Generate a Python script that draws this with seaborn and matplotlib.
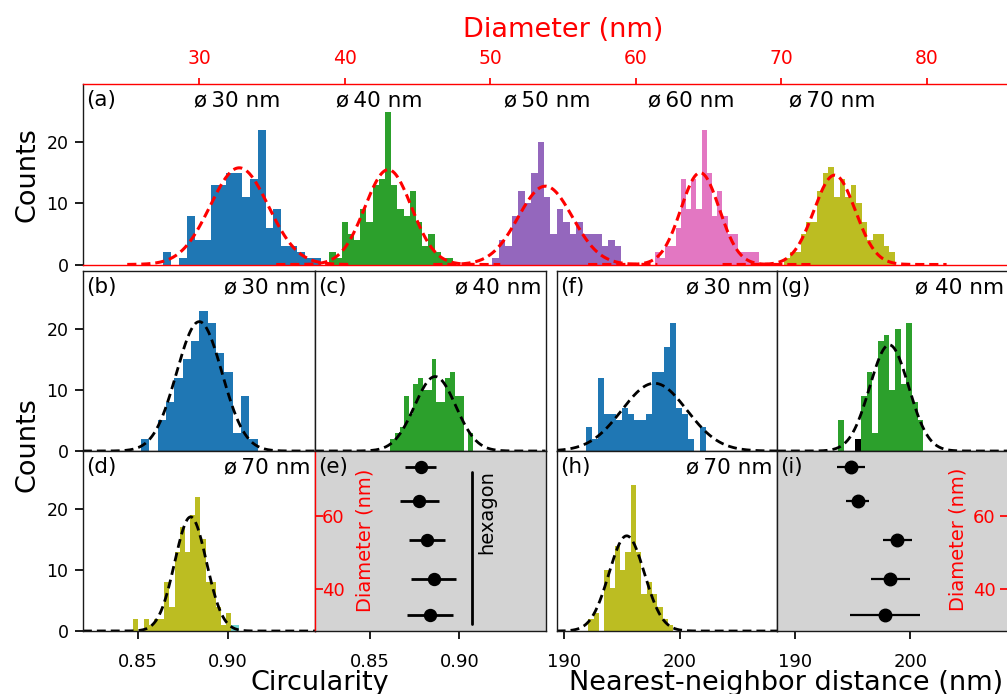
import numpy as np
import pandas as pd
import matplotlib
matplotlib.use("Agg")
import matplotlib.pyplot as plt
import seaborn as sns

# ---------------- values ----------------
# (a) diameter histograms: first bin edge (nm), bin width (nm), counts per bin
diam_colors = ["tab:blue", "tab:green", "tab:purple", "tab:pink", "tab:olive"]
diam_names = ["30", "40", "50", "60", "70"]
diam_start = [27.54, 38.95, 50.16, 61.32, 70.21]
diam_width = [0.541, 0.426, 0.443, 0.358, 0.381]
diam_counts = [
    [2, 0, 1, 8, 4, 4, 13, 13, 15, 15, 11, 14, 22, 6, 9, 3, 3, 2, 1, 1],
    [2, 1, 7, 5, 4, 9, 7, 13, 14, 25, 13, 9, 8, 12, 7, 3, 5, 2, 1, 1],
    [1, 4, 3, 8, 12, 10, 15, 20, 11, 5, 9, 7, 5, 7, 5, 5, 5, 3, 4, 3],
    [2, 1, 3, 3, 6, 14, 9, 14, 9, 22, 15, 8, 12, 8, 5, 5, 2, 2, 2, 2],
    [1, 2, 2, 5, 7, 7, 12, 15, 16, 11, 14, 11, 13, 10, 7, 4, 5, 5, 3, 2],
]
# gaussian fits of (a)
diam_fit_amp = [15.8, 15.5, 12.8, 15.0, 14.6]
diam_fit_mu = [32.76, 43.0, 53.8, 64.44, 73.68]
diam_fit_sigma = [2.0, 1.6, 1.86, 1.32, 1.42]

# (b), (c), (d) circularity histograms for 30, 40, 70 nm
circ_start = [0.8515, 0.8615, 0.8472]
circ_width = [0.00463, 0.00256, 0.00287]
circ_counts = [
    [2, 0, 5, 8, 12, 15, 18, 23, 21, 16, 13, 3, 9, 2],
    [2, 3, 4, 9, 6, 11, 12, 10, 10, 15, 8, 8, 12, 13, 9, 9, 0, 3],
    [2, 0, 2, 1, 2, 2, 8, 4, 13, 17, 13, 19, 22, 15, 8, 8, 4, 1, 3],
]
circ_fit_amp = [21.2, 12.2, 18.7]
circ_fit_mu = [0.8839, 0.8865, 0.8791]
circ_fit_sigma = [0.0126, 0.0115, 0.0088]
circ_extra = (0.9018, 0.0043, [1])   # small cyan bar in (d)

# (f), (g), (h) nearest-neighbor distance histograms for 30, 40, 70 nm
nnd_start = [191.88, 193.74, 192.08]
nnd_width = [0.519, 0.493, 0.458]
nnd_counts = [
    [4, 2, 12, 6, 6, 5, 7, 6, 5, 5, 6, 13, 13, 17, 21, 7, 6, 2, 0, 4],
    [5, 0, 0, 0, 9, 13, 3, 18, 19, 10, 20, 11, 21, 8, 5],
    [2, 3, 0, 10, 7, 14, 10, 13, 24, 13, 6, 8, 6, 4, 2, 1],
]
nnd_fit_amp = [11.1, 17.4, 15.6]
nnd_fit_mu = [197.78, 198.17, 195.39]
nnd_fit_sigma = [2.8, 1.69, 1.53]
nnd_extra = (195.22, 0.493, [2])     # small black bar in (g)

# (e), (i) mean values vs diameter (70, 60, 50, 40, 30 nm)
summary_diam = [73.4, 64.2, 53.3, 42.7, 32.8]
summary_circ = [0.8784, 0.8776, 0.8820, 0.8856, 0.8836]
summary_circ_err = [0.0086, 0.0110, 0.0099, 0.0125, 0.0128]
summary_nnd = [194.87, 195.43, 198.87, 198.26, 197.77]
summary_nnd_err = [1.20, 0.98, 1.28, 1.70, 3.04]
hexagon_circ = 0.9069
hexagon_span = [30.4, 72.0]

# ---------------- style ----------------
sns.set_theme(style="ticks")
plt.rcParams["font.family"] = ["DejaVu Sans"]
plt.rcParams["axes.linewidth"] = 1.0
plt.rcParams["axes.edgecolor"] = "#1a1a1a"
plt.rcParams["text.color"] = "black"
plt.rcParams["axes.labelcolor"] = "black"
plt.rcParams["xtick.color"] = "black"
plt.rcParams["ytick.color"] = "black"

W, H = 1007, 694
fig = plt.figure(figsize=(W / 100, H / 100), dpi=100)


def add_box(left, top, right, bottom):
    return fig.add_axes([left / W, 1 - bottom / H, (right - left) / W, (bottom - top) / H])


def gauss(x, amp, mu, sig):
    return amp * np.exp(-0.5 * ((x - mu) / sig) ** 2)


def draw_hist(ax, start, width, counts, color):
    counts = np.asarray(counts, dtype=float)
    edges = start + width * np.arange(len(counts) + 1)
    df = pd.DataFrame({"x": 0.5 * (edges[:-1] + edges[1:]), "w": counts})
    sns.histplot(data=df, x="x", weights="w", bins=edges.tolist(), color=color, alpha=1,
                 linewidth=0, edgecolor="none", ax=ax)
    ax.set_xlabel("")
    ax.set_ylabel("")


def corner_text(ax, left, right=None):
    ax.annotate(left, xy=(0, 1), xycoords="axes fraction", xytext=(2.5, -4.3),
                textcoords="offset points", ha="left", va="top", fontsize=15.5)
    if right:
        ax.annotate(right, xy=(1, 1), xycoords="axes fraction", xytext=(-3, -4.3),
                    textcoords="offset points", ha="right", va="top", fontsize=15.5)


# ---------------- (a) ----------------
ax_a = add_box(83, 84, 1008, 264.5)
for i in range(5):
    draw_hist(ax_a, diam_start[i], diam_width[i], diam_counts[i], diam_colors[i])
for i in range(5):
    xs = np.linspace(diam_fit_mu[i] - 7.7, diam_fit_mu[i] + 7.7, 300)
    ax_a.plot(xs, gauss(xs, diam_fit_amp[i], diam_fit_mu[i], diam_fit_sigma[i]),
              color="red", ls="--", dashes=(3.0, 1.6), lw=2.2)
ax_a.set_xlim(22.02, 85.6)
ax_a.set_ylim(0, 29.5)
ax_a.xaxis.tick_top()
ax_a.set_xticks([30, 40, 50, 60, 70, 80])
ax_a.tick_params(axis="x", colors="red", labelsize=13.5, pad=7.5, length=4)
ax_a.set_yticks([0, 10, 20])
ax_a.tick_params(axis="y", labelsize=12.5, pad=4.5)
for s in ["top", "bottom", "right"]:
    ax_a.spines[s].set_color("red")
corner_text(ax_a, "(a)")
label_x = [32.6, 42.4, 53.9, 63.8, 73.5]
for name, x in zip(diam_names, label_x):
    ax_a.annotate("ø\u2009" + name + " nm", xy=(x, 1), xycoords=("data", "axes fraction"),
                  xytext=(0, -4.3), textcoords="offset points", ha="center", va="top",
                  fontsize=15.5)

# ---------------- grid of small panels ----------------
cols = [(83, 315), (315, 545.5), (556.7, 777), (777, 1008)]
rows = [(271, 451), (451, 631)]
ax_b = add_box(cols[0][0], rows[0][0], cols[0][1], rows[0][1])
ax_c = add_box(cols[1][0], rows[0][0], cols[1][1], rows[0][1])
ax_f = add_box(cols[2][0], rows[0][0], cols[2][1], rows[0][1])
ax_g = add_box(cols[3][0], rows[0][0], cols[3][1], rows[0][1])
ax_d = add_box(cols[0][0], rows[1][0], cols[0][1], rows[1][1])
ax_e = add_box(cols[1][0], rows[1][0], cols[1][1], rows[1][1])
ax_h = add_box(cols[2][0], rows[1][0], cols[2][1], rows[1][1])
ax_i = add_box(cols[3][0], rows[1][0], cols[3][1], rows[1][1])

circ_lim = (0.8193, 0.9482)
nnd_lim_left = (189.34, 208.38)
nnd_lim_right = (188.41, 208.5)

hist_panels = [
    (ax_b, circ_start, circ_width, circ_counts, circ_fit_amp, circ_fit_mu, circ_fit_sigma, 0,
     "tab:blue", circ_lim, "(b)", "ø\u200930 nm"),
    (ax_c, circ_start, circ_width, circ_counts, circ_fit_amp, circ_fit_mu, circ_fit_sigma, 1,
     "tab:green", circ_lim, "(c)", "ø\u200940 nm"),
    (ax_d, circ_start, circ_width, circ_counts, circ_fit_amp, circ_fit_mu, circ_fit_sigma, 2,
     "tab:olive", circ_lim, "(d)", "ø\u200970 nm"),
    (ax_f, nnd_start, nnd_width, nnd_counts, nnd_fit_amp, nnd_fit_mu, nnd_fit_sigma, 0,
     "tab:blue", nnd_lim_left, "(f)", "ø\u200930 nm"),
    (ax_g, nnd_start, nnd_width, nnd_counts, nnd_fit_amp, nnd_fit_mu, nnd_fit_sigma, 1,
     "tab:green", nnd_lim_right, "(g)", "ø 40 nm"),
    (ax_h, nnd_start, nnd_width, nnd_counts, nnd_fit_amp, nnd_fit_mu, nnd_fit_sigma, 2,
     "tab:olive", nnd_lim_left, "(h)", "ø\u200970 nm"),
]
for ax, st, wd, cn, amp, mu, sg, k, col, lim, lab, size in hist_panels:
    draw_hist(ax, st[k], wd[k], cn[k], col)
    xs = np.linspace(lim[0], lim[1], 400)
    ax.plot(xs, gauss(xs, amp[k], mu[k], sg[k]), color="black", ls="--",
            dashes=(3.2, 1.8), lw=2)
    ax.set_xlim(*lim)
    ax.set_ylim(0, 29.5)
    corner_text(ax, lab, size)
    ax.tick_params(left=False, labelleft=False, bottom=False, labelbottom=False)

draw_hist(ax_d, circ_extra[0], circ_extra[1], circ_extra[2], "#72d6d3")
draw_hist(ax_g, nnd_extra[0], nnd_extra[1], nnd_extra[2], "black")
for ax in [ax_b, ax_d]:
    ax.set_yticks([0, 10, 20])
    ax.tick_params(axis="y", left=True, labelleft=True, labelsize=12.5, pad=4.5)
ax_d.set_xticks([0.85, 0.90])
ax_d.set_xticklabels(["0.85", "0.90"])
ax_h.set_xticks([190, 200])
for ax in [ax_d, ax_h]:
    ax.tick_params(axis="x", bottom=True, labelbottom=True, labelsize=13, pad=10)

# ---------------- (e) circularity summary ----------------
ax_e.set_facecolor("lightgray")
ax_e.errorbar(summary_circ, summary_diam, xerr=summary_circ_err, fmt="o", color="black",
              ms=8.6, elinewidth=2.0, capsize=0)
ax_e.plot([hexagon_circ, hexagon_circ], hexagon_span, color="black", lw=2)
ax_e.text(hexagon_circ + 0.0033, hexagon_span[1] + 0.6, "hexagon", rotation=90,
          ha="left", va="top", fontsize=14)
ax_e.set_xlim(*circ_lim)
ax_e.set_ylim(28.4, 77.8)
ax_e.set_xticks([0.85, 0.90])
ax_e.set_xticklabels(["0.85", "0.90"])
ax_e.tick_params(axis="x", labelsize=13, pad=10)
ax_e.set_yticks([40, 60])
ax_e.tick_params(axis="y", direction="in", colors="red", labelsize=13, pad=-5)
for lab in ax_e.get_yticklabels():
    lab.set_ha("left")
ax_e.spines["left"].set_color("red")
ax_e.text(0.217, 0.505, "Diameter (nm)", transform=ax_e.transAxes, rotation=90,
          ha="center", va="center", color="red", fontsize=14)
corner_text(ax_e, "(e)")

# ---------------- (i) nearest-neighbor summary ----------------
ax_i.set_facecolor("lightgray")
ax_i.errorbar(summary_nnd, summary_diam, xerr=summary_nnd_err, fmt="o", color="black",
              ms=9, elinewidth=1.6, capsize=0)
ax_i.set_xlim(*nnd_lim_right)
ax_i.set_ylim(28.4, 77.8)
ax_i.set_xticks([190, 200])
ax_i.tick_params(axis="x", labelsize=13, pad=10)
ax_i.yaxis.tick_right()
ax_i.set_yticks([40, 60])
ax_i.tick_params(axis="y", direction="in", colors="red", labelsize=13, pad=-9)
for lab in ax_i.get_yticklabels():
    lab.set_ha("right")
ax_i.spines["right"].set_color("red")
ax_i.text(0.783, 0.507, "Diameter (nm)", transform=ax_i.transAxes, rotation=90,
          ha="center", va="center", color="red", fontsize=14)
corner_text(ax_i, "(i)")

# ---------------- figure labels ----------------
fig.text(563.6 / W, 1 - 36.7 / H, "Diameter (nm)", color="red", fontsize=19.5,
         ha="center", va="baseline")
fig.text(27 / W, 1 - 175 / H, "Counts", rotation=90, ha="center", va="center", fontsize=19.5)
fig.text(27 / W, 1 - 445 / H, "Counts", rotation=90, ha="center", va="center", fontsize=19.5)
fig.text(319.6 / W, 4 / H, "Circularity", ha="center", va="baseline", fontsize=19.5)
fig.text(786.5 / W, 4 / H, "Nearest-neighbor distance (nm)", ha="center", va="baseline",
         fontsize=19.5)

fig.savefig("out.png", dpi=100)
